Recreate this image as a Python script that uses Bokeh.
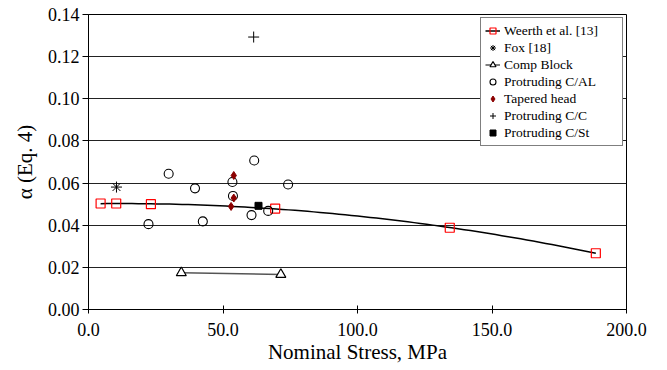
import numpy as np
from bokeh.plotting import figure
from bokeh.models import Range1d, FixedTicker, NumeralTickFormatter, Legend, LegendItem
from bokeh.embed import file_html
from bokeh.resources import INLINE

# ---- data ----
weerth_x = [4.5, 10.3, 23.2, 69.4, 134.3, 188.6]
weerth_y = [0.0503, 0.0503, 0.0500, 0.0479, 0.0388, 0.0267]
fox_x = [10.4]
fox_y = [0.0581]
comp_x = [34.5, 71.5]
comp_y = [0.0174, 0.0166]
cal_x = [22.3, 29.8, 39.6, 42.5, 53.5, 53.7, 60.6, 61.6, 66.8, 74.2]
cal_y = [0.0405, 0.0644, 0.0575, 0.0418, 0.0605, 0.0539, 0.0448, 0.0707, 0.0468, 0.0593]
taper_x = [54.0, 54.0, 53.0]
taper_y = [0.0636, 0.0529, 0.0489]
cc_x = [61.4]
cc_y = [0.1293]
cst_x = [63.2]
cst_y = [0.0492]
x_ticks = [0, 50, 100, 150, 200]
y_ticks = [0.00, 0.02, 0.04, 0.06, 0.08, 0.10, 0.12, 0.14]

# quadratic trendline of the Weerth data (as in the reference)
coef = np.polyfit(weerth_x, weerth_y, 2)
trend_x = np.linspace(min(weerth_x), max(weerth_x), 80)
trend_y = np.polyval(coef, trend_x)

FONT = "Liberation Serif"

p = figure(width=660, height=366, x_range=Range1d(0, 200), y_range=Range1d(0, 0.14),
           output_backend="svg", toolbar_location=None,
           min_border_left=88, min_border_right=34, min_border_top=14, min_border_bottom=55)
p.background_fill_color = "white"
p.border_fill_color = "white"
p.outline_line_color = "black"
p.outline_line_width = 1

p.xgrid.grid_line_color = None
p.ygrid.grid_line_color = "#222222"
p.ygrid.grid_line_width = 1
p.ygrid.ticker = FixedTicker(ticks=y_ticks)

xa = p.xaxis[0]
ya = p.yaxis[0]
xa.ticker = FixedTicker(ticks=x_ticks)
ya.ticker = FixedTicker(ticks=y_ticks)
xa.formatter = NumeralTickFormatter(format="0.0")
ya.formatter = NumeralTickFormatter(format="0.00")
for ax in (xa, ya):
    ax.axis_line_color = "black"
    ax.axis_line_width = 1
    ax.major_tick_line_color = "black"
    ax.minor_tick_line_color = None
    ax.major_label_text_color = "black"
    ax.major_label_text_font = FONT
    ax.major_label_text_font_size = "18px"
    ax.major_label_text_font_style = "normal"
    ax.axis_label_text_font = FONT
    ax.axis_label_text_font_size = "21px"
    ax.axis_label_text_font_style = "normal"
    ax.axis_label_text_color = "black"
xa.major_tick_in = 4
xa.major_tick_out = 4
ya.major_tick_in = 0
ya.major_tick_out = 6
xa.major_label_standoff = 9
ya.major_label_standoff = 3
xa.axis_label = "Nominal Stress, MPa"
ya.axis_label = "α (Eq. 4)"
xa.axis_label_standoff = 1
ya.axis_label_standoff = 8

r_trend = p.line(trend_x, trend_y, line_color="black", line_width=1.5)
r_weerth = p.scatter(weerth_x, weerth_y, marker="square", size=9, line_color="#ff0000",
                     fill_color=None, line_width=1.2)
r_fox = p.scatter(fox_x, fox_y, marker="asterisk", size=11, line_color="black", line_width=1)
r_comp_line = p.line(comp_x, comp_y, line_color="#555555", line_width=1.5)
r_comp = p.scatter(comp_x, comp_y, marker="triangle", size=10, line_color="black",
                   fill_color="white", line_width=1.2)
r_cal = p.scatter(cal_x, cal_y, marker="circle", size=9, line_color="black",
                  fill_color=None, line_width=1.1)
r_taper = p.scatter(taper_x, taper_y, marker="diamond", size=8, line_color="#8b0000",
                    fill_color="#8b0000")
r_cc = p.scatter(cc_x, cc_y, marker="cross", size=11, line_color="black", line_width=1)
r_cst = p.scatter(cst_x, cst_y, marker="square", size=7, line_color="black", fill_color="black")

legend = Legend(items=[
    LegendItem(label="Weerth et al. [13]", renderers=[r_trend, r_weerth]),
    LegendItem(label="Fox [18]", renderers=[r_fox]),
    LegendItem(label="Comp Block", renderers=[r_comp_line, r_comp]),
    LegendItem(label="Protruding C/AL", renderers=[r_cal]),
    LegendItem(label="Tapered head", renderers=[r_taper]),
    LegendItem(label="Protruding C/C", renderers=[r_cc]),
    LegendItem(label="Protruding C/St", renderers=[r_cst]),
], location="top_right")
legend.margin = 3
legend.padding = 4
legend.spacing = 0
legend.glyph_width = 15
legend.glyph_height = 17
legend.label_height = 17
legend.label_width = 114
legend.label_standoff = 4
legend.label_text_font = FONT
legend.label_text_font_size = "13.5px"
legend.label_text_font_style = "normal"
legend.label_text_color = "black"
legend.border_line_color = "black"
legend.border_line_width = 1
legend.background_fill_color = "white"
legend.background_fill_alpha = 1.0
p.add_layout(legend)

open("out.html", "w").write(file_html(p, INLINE))
